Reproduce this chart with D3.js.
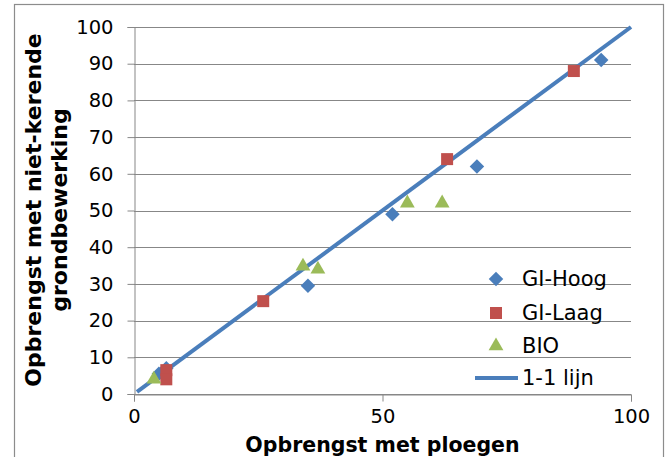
<!DOCTYPE html>
<html>
<head>
<meta charset="utf-8">
<script src="https://cdn.jsdelivr.net/npm/d3@7"></script>
<style>
  html, body { margin: 0; padding: 0; background: #fff; }
  svg { display: block; }
</style>
</head>
<body>
<svg id="chart" width="671" height="457"></svg>
<script>
// ---- data ----
const xTicks = [0, 50, 100];
const yTicks = [0, 10, 20, 30, 40, 50, 60, 70, 80, 90, 100];
const giHoog = [[94, 91], [69, 62], [52, 49], [35, 29.5], [5, 5.5], [6.5, 7]];
const giLaag = [[88.5, 88], [63, 64], [26, 25.3], [6.5, 6.5], [6.5, 4]];
const bio = [[62, 52], [55, 52], [34, 34.8], [37, 34], [4, 4]];
const oneToOne = [[0.6, 0.6], [100, 100]];
const seriesNames = ["GI-Hoog", "GI-Laag", "BIO", "1-1 lijn"];
const xTitle = "Opbrengst met ploegen";
const yTitle = ["Opbrengst met niet-kerende", "grondbewerking"];

const colors = { blue: "#4A7EBB", red: "#C0504D", green: "#9BBB59", grid: "#878787", frame: "#8c8c8c" };
const font = "'DejaVu Sans', Verdana, sans-serif";

const svg = d3.select("#chart");

// outer frame
svg.append("rect").attr("x", 14.5).attr("y", 4.5).attr("width", 649).attr("height", 480)
  .attr("fill", "none").attr("stroke", colors.frame).attr("stroke-width", 1.2);

const x = d3.scaleLinear().domain([0, 100]).range([134, 631]);
const y = d3.scaleLinear().domain([0, 100]).range([394, 27]);

// gridlines
svg.append("g").selectAll("line").data(yTicks).join("line")
  .attr("x1", x(0)).attr("x2", x(100))
  .attr("y1", d => Math.round(y(d)) + 0.5).attr("y2", d => Math.round(y(d)) + 0.5)
  .attr("stroke", colors.grid).attr("stroke-width", 1);

// y axis
const yAxis = svg.append("g").attr("transform", `translate(${x(0) + 0.5},0)`)
  .call(d3.axisLeft(y).tickValues(yTicks).tickSize(7).tickPadding(14));
yAxis.select(".domain").attr("stroke", colors.grid);
yAxis.selectAll(".tick line").attr("stroke", colors.grid);
yAxis.selectAll(".tick text").attr("font-family", font).attr("font-size", 19.5).attr("fill", "#000");

// x axis
const xAxis = svg.append("g").attr("transform", `translate(0,${Math.round(y(0)) + 0.5})`)
  .call(d3.axisBottom(x).tickValues(xTicks).tickSize(7).tickPadding(8));
xAxis.select(".domain").attr("stroke", colors.grid);
xAxis.selectAll(".tick line").attr("stroke", colors.grid);
xAxis.selectAll(".tick text").attr("font-family", font).attr("font-size", 19.5).attr("fill", "#000");

// 1-1 line
svg.append("path").datum(oneToOne)
  .attr("d", d3.line().x(d => x(d[0])).y(d => y(d[1])))
  .attr("stroke", colors.blue).attr("stroke-width", 4).attr("fill", "none");

// markers
const diamond = d3.symbol().type(d3.symbolSquare).size(105);
const square = d3.symbol().type(d3.symbolSquare).size(144);
const triangle = d3.symbol().type(d3.symbolTriangle).size(95);

svg.append("g").selectAll("path").data(giHoog).join("path")
  .attr("d", diamond())
  .attr("transform", d => `translate(${x(d[0])},${y(d[1])}) rotate(45)`)
  .attr("fill", colors.blue);
svg.append("g").selectAll("path").data(giLaag).join("path")
  .attr("d", square())
  .attr("transform", d => `translate(${x(d[0])},${y(d[1])})`)
  .attr("fill", colors.red);
svg.append("g").selectAll("path").data(bio).join("path")
  .attr("d", triangle())
  .attr("transform", d => `translate(${x(d[0])},${y(d[1])})`)
  .attr("fill", colors.green);

// legend
const legY = [279, 313, 346, 378];
const leg = svg.append("g");
leg.append("path").attr("d", diamond()).attr("transform", `translate(496,${legY[0]}) rotate(45)`).attr("fill", colors.blue);
leg.append("path").attr("d", square()).attr("transform", `translate(496,${legY[1]})`).attr("fill", colors.red);
leg.append("path").attr("d", triangle()).attr("transform", `translate(496,${legY[2]})`).attr("fill", colors.green);
leg.append("line").attr("x1", 475).attr("x2", 518).attr("y1", legY[3]).attr("y2", legY[3])
  .attr("stroke", colors.blue).attr("stroke-width", 4);
leg.selectAll("text").data(seriesNames).join("text")
  .attr("x", 522).attr("y", (d, i) => legY[i]).attr("dy", "0.35em")
  .attr("font-family", font).attr("font-size", 21).attr("fill", "#000")
  .text(d => d);

// axis titles
svg.append("text").attr("x", (x(0) + x(100)) / 2).attr("y", 452)
  .attr("text-anchor", "middle").attr("font-family", font).attr("font-size", 20.5)
  .attr("font-weight", "bold").text(xTitle);

const yt = svg.append("text").attr("transform", `translate(0,210) rotate(-90)`)
  .attr("text-anchor", "middle").attr("font-family", font).attr("font-size", 22)
  .attr("font-weight", "bold");
yt.append("tspan").attr("x", 0).attr("y", 41).text(yTitle[0]);
yt.append("tspan").attr("x", 0).attr("y", 67).text(yTitle[1]);
</script>
</body>
</html>
